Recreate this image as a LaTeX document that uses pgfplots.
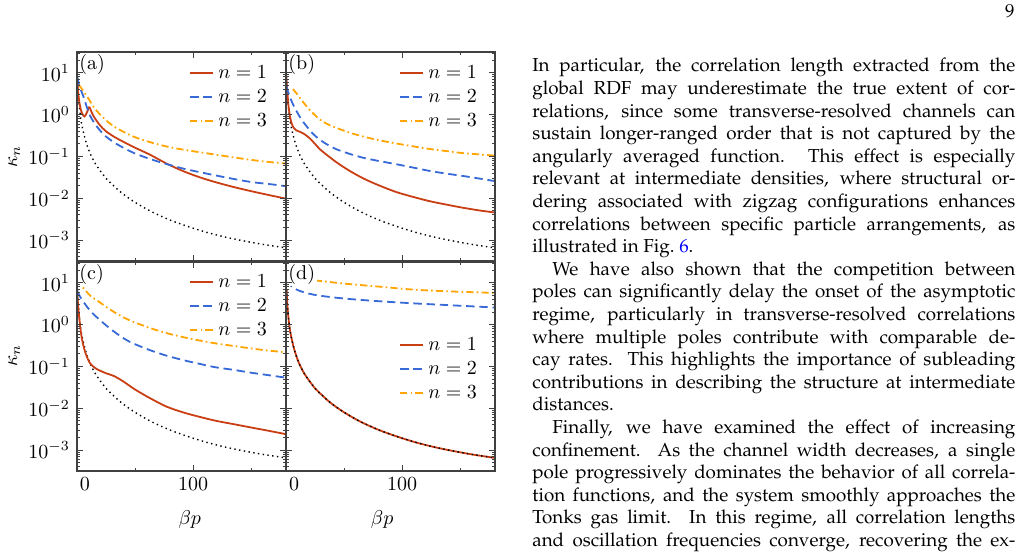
\documentclass[border=0pt]{standalone}
\usepackage[T1,TU]{fontenc}
\usepackage{pgfplots}
\usepackage{pgfplotstable}
\pgfplotsset{compat=1.18}

\definecolor{cRed}{RGB}{202,62,20}
\definecolor{cBlue}{RGB}{55,105,215}
\definecolor{cOrange}{RGB}{255,165,0}

% Tonks-gas reference curve (dotted, shared by all panels)
\pgfplotstableread{
x y
0.5 7.1
1 3.55
2 1.58
3 0.89
4 0.60
5 0.44
7 0.263
9 0.174
12 0.107
16 0.066
20 0.0457
25 0.030
30 0.0219
38 0.0138
48 0.0087
60 0.0055
70 0.0040
81 0.00295
95 0.00214
110 0.00158
125 0.00123
140 0.0010
160 0.00079
180 0.00065
}\Dtab

% panel (a)
\pgfplotstableread{
x y
0.3 7.1
1 3.55
2 2.0
3.5 1.26
5 1.0
6.5 0.91
8 1.05
9.5 1.32
10.6 1.55
}\aRedA
\pgfplotstableread{
x y
10.6 1.55
12 1.26
14 0.95
17 0.71
20 0.55
25 0.40
34 0.275
48.5 0.17
63 0.11
77 0.068
92 0.044
106 0.0316
120 0.024
135 0.0186
150 0.0148
165 0.012
180 0.0098
}\aRedB
\pgfplotstableread{
x y
0.3 7.9
2 5.0
4 3.5
5.5 2.75
8 1.66
11.2 0.95
15 0.63
19.8 0.42
25 0.30
34 0.20
48.5 0.123
63 0.087
77 0.066
92 0.051
106 0.042
120 0.035
135 0.029
150 0.0245
165 0.022
180 0.0195
}\aBlue
\pgfplotstableread{
x y
1.5 5.2
3 4.6
6 3.5
10 2.4
14 1.58
20 1.0
27 0.66
34 0.48
48.5 0.30
63 0.22
77 0.174
92 0.145
106 0.126
120 0.11
135 0.095
150 0.083
165 0.074
180 0.068
}\aOrange

% panel (b)
\pgfplotstableread{
x y
0.3 7.9
1 4.0
2 1.78
3.4 0.91
5 0.60
7 0.47
9 0.42
12 0.39
15 0.355
18 0.31
21 0.263
25 0.20
29 0.151
35 0.11
44 0.071
55 0.045
67 0.0295
80 0.0204
95 0.0141
110 0.0107
124 0.0085
140 0.0069
153 0.0059
167 0.0051
180 0.00457
}\bRed
\pgfplotstableread{
x y
0.3 4.8
3 2.8
6 1.78
9.2 1.2
13 0.79
17.8 0.525
23 0.355
29.3 0.25
36 0.19
43.7 0.148
55 0.115
66.7 0.093
80 0.078
95.4 0.065
110 0.054
124 0.045
138 0.039
153 0.034
167 0.0295
180 0.0257
}\bBlue
\pgfplotstableread{
x y
6 4.1
9.2 3.2
13 2.3
17.8 1.58
23 1.1
29.3 0.76
36 0.59
43.7 0.48
55 0.37
66.7 0.30
80 0.245
95.4 0.204
110 0.174
124 0.151
138 0.135
153 0.12
167 0.112
180 0.105
}\bOrange

% panel (c)
\pgfplotstableread{
x y
0.3 5.6
1 2.8
2 1.41
3 0.79
4 0.50
5.5 0.316
7 0.224
9 0.158
11.2 0.12
14 0.10
17 0.087
20 0.079
25 0.069
30 0.062
34 0.055
40 0.0437
48.5 0.030
56 0.0224
63 0.0174
77 0.011
92 0.0079
106 0.0062
120 0.0050
135 0.00417
150 0.00347
165 0.0029
180 0.0024
}\cRed
\pgfplotstableread{
x y
0.3 6.3
3 4.5
5.5 3.55
10 2.4
15 1.7
19.8 1.29
27 0.87
34 0.62
41 0.457
48.5 0.355
63 0.245
77 0.182
92 0.141
106 0.115
120 0.095
135 0.083
150 0.071
165 0.062
180 0.054
}\cBlue
\pgfplotstableread{
x y
0.3 12.6
3 9.3
6.9 6.8
12 4.8
19.8 3.4
27 2.45
34 1.86
41 1.45
48.5 1.17
63 0.83
77 0.63
92 0.50
106 0.417
120 0.355
135 0.31
150 0.27
165 0.24
180 0.219
}\cOrange

% panel (d)
\pgfplotstableread{
x y
0.3 11.5
3 9.1
9.2 6.9
16 5.9
23.5 5.25
35 4.7
52.3 4.17
81 3.63
110 3.24
138.5 2.95
160 2.75
180 2.57
}\dBlue
\pgfplotstableread{
x y
0.3 20
5 16.6
12 14.1
23.5 11.7
35 10.7
52.3 9.5
81 8.1
110 6.9
138.5 6.3
160 6.0
180 5.75
}\dOrange

\tikzset{
  nred/.style={draw=cRed, line width=0.9pt},
  nblue/.style={draw=cBlue, line width=0.9pt, dash pattern=on 4.2pt off 2.4pt},
  norange/.style={draw=cOrange, line width=0.9pt, dash pattern=on 3.6pt off 1.6pt on 0.8pt off 1.6pt},
  ntonks/.style={draw=black, line width=0.7pt, dash pattern=on 0.7pt off 1.7pt},
  plabel/.style={anchor=north west, fill=white, inner sep=1pt, font=\fontsize{10}{12}\selectfont},
}

% short straight legend sample, slightly heavier so it reads well
\pgfplotsset{legend image code/.code={\draw[#1, line width=1.1pt] (0pt,0.25pt) -- (11.5pt,0.25pt);}}

\pgfplotsset{
  every axis/.append style={
    ymode=log, scale only axis, width=104.5pt, height=104.5pt,
    anchor=north west,
    xmin=0, xmax=180, ymin=3.1623e-4, ymax=31.623,
    xtick={0,100}, minor xtick={50,150},
    ytick={1e-3,1e-2,1e-1,1,10},
    minor ytick={4e-4,5e-4,6e-4,7e-4,8e-4,9e-4,
      2e-3,3e-3,4e-3,5e-3,6e-3,7e-3,8e-3,9e-3,
      2e-2,3e-2,4e-2,5e-2,6e-2,7e-2,8e-2,9e-2,
      0.2,0.3,0.4,0.5,0.6,0.7,0.8,0.9,
      2,3,4,5,6,7,8,9,20,30},
    tick align=inside, tick pos=both,
    major tick length=3pt, minor tick length=1.6pt,
    axis line style={black!75, line width=0.6pt},
    every tick/.style={black!75, line width=0.45pt},
    axis on top,
    tick label style={font=\fontsize{10}{12}\selectfont},
    legend cell align=left,
    legend style={draw=none, fill=none, inner sep=0pt, row sep=0pt,
      nodes={inner sep=2pt}, font=\fontsize{10}{12}\selectfont},
  },
}

\newcommand\Ln[1]{\hbox to 241.5pt{#1}}
\newcommand\Lf[1]{\hbox to 241.5pt{#1\hfil}}

\begin{document}
\begin{tikzpicture}
\useasboundingbox (0,0) rectangle (514pt,278.5pt);

% (a)
\begin{axis}[at={(38.5pt,252.5pt)},
  xticklabels={}, ylabel={$\kappa_n$},
  ylabel style={at={(axis description cs:-0.30,0.5)}, anchor=center},
  legend style={at={(axis description cs:0.93,0.955)}, anchor=north east}]
\addplot[ntonks, smooth, forget plot] table {\Dtab};
\addplot[nred, smooth, forget plot] table {\aRedA};
\addplot[nred, smooth] table {\aRedB};
\addlegendentry{$n=1$}
\addplot[nblue, smooth] table {\aBlue};
\addlegendentry{$n=2$}
\addplot[norange, smooth] table {\aOrange};
\addlegendentry{$n=3$}
\node[plabel] at (axis description cs:0,1) {(a)};
\end{axis}

% (b)
\begin{axis}[at={(143pt,252.5pt)},
  xticklabels={}, yticklabels={},
  legend style={at={(axis description cs:0.935,0.955)}, anchor=north east}]
\addplot[ntonks, smooth, forget plot] table {\Dtab};
\addplot[nred, smooth] table {\bRed};
\addlegendentry{$n=1$}
\addplot[nblue, smooth] table {\bBlue};
\addlegendentry{$n=2$}
\addplot[norange, smooth] table {\bOrange};
\addlegendentry{$n=3$}
\node[plabel] at (axis description cs:0,1) {(b)};
\end{axis}

% (c)
\begin{axis}[at={(38.5pt,147.5pt)},
  xticklabels={{\hspace{8pt}$0$},{$100$}},
  xlabel={$\beta p$},
  xlabel style={at={(axis description cs:0.54,0)}, anchor=center, yshift=-24pt},
  ylabel={$\kappa_n$},
  ylabel style={at={(axis description cs:-0.30,0.553)}, anchor=center},
  legend style={at={(axis description cs:0.93,0.96)}, anchor=north east}]
\addplot[ntonks, smooth, forget plot] table {\Dtab};
\addplot[nred, smooth] table {\cRed};
\addlegendentry{$n=1$}
\addplot[nblue, smooth] table {\cBlue};
\addlegendentry{$n=2$}
\addplot[norange, smooth] table {\cOrange};
\addlegendentry{$n=3$}
\node[plabel] at (axis description cs:0,1) {(c)};
\end{axis}

% (d)
\begin{axis}[at={(143pt,147.5pt)},
  xticklabels={{\hspace{8pt}$0$},{$100$}}, yticklabels={},
  xlabel={$\beta p$},
  xlabel style={at={(axis description cs:0.46,0)}, anchor=center, yshift=-24pt},
  legend style={at={(axis description cs:0.935,0.66)}, anchor=north east}]
\addplot[nred, smooth] table {\Dtab};
\addlegendentry{$n=1$}
\addplot[nblue, smooth] table {\dBlue};
\addlegendentry{$n=2$}
\addplot[norange, smooth] table {\dOrange};
\addlegendentry{$n=3$}
\addplot[ntonks, smooth, forget plot] table {\Dtab};
\node[plabel] at (axis description cs:0,1) {(d)};
\end{axis}

% running text of the page
\node[anchor=base east, inner sep=0] at (507.5pt,269.5pt)
  {\fontencoding{T1}\fontfamily{ppl}\fontsize{9.4}{11.3}\selectfont 9};
\node[anchor=base west, inner sep=0] at (266pt,242.5pt) {\vtop{%
  \fontencoding{T1}\fontfamily{ppl}\fontsize{9.4}{11.3}\selectfont
  \baselineskip=11.3pt \parindent=0pt
  \Ln{In particular, the correlation length extracted from the}
  \Ln{global RDF may underestimate the true extent of cor-}
  \Ln{relations, since some transverse-resolved channels can}
  \Ln{sustain longer-ranged order that is not captured by the}
  \Ln{angularly averaged function.  This effect is especially}
  \Ln{relevant at intermediate densities, where structural or-}
  \Ln{dering associated with zigzag configurations enhances}
  \Ln{correlations between specific particle arrangements, as}
  \Lf{illustrated in Fig.~\textcolor{blue}{6}.}
  \Ln{\hspace{10pt}We have also shown that the competition between}
  \Ln{poles can significantly delay the onset of the asymptotic}
  \Ln{regime, particularly in transverse-resolved correlations}
  \Ln{where multiple poles contribute with comparable de-}
  \Ln{cay rates. This highlights the importance of subleading}
  \Ln{contributions in describing the structure at intermediate}
  \Lf{distances.}
  \Ln{\hspace{10pt}Finally, we have examined the effect of increasing}
  \Ln{confinement.  As the channel width decreases, a single}
  \Ln{pole progressively dominates the behavior of all correla-}
  \Ln{tion functions, and the system smoothly approaches the}
  \Ln{Tonks gas limit.  In this regime, all correlation lengths}
  \Ln{and oscillation frequencies converge, recovering the ex-}
}};
\end{tikzpicture}
\end{document}
